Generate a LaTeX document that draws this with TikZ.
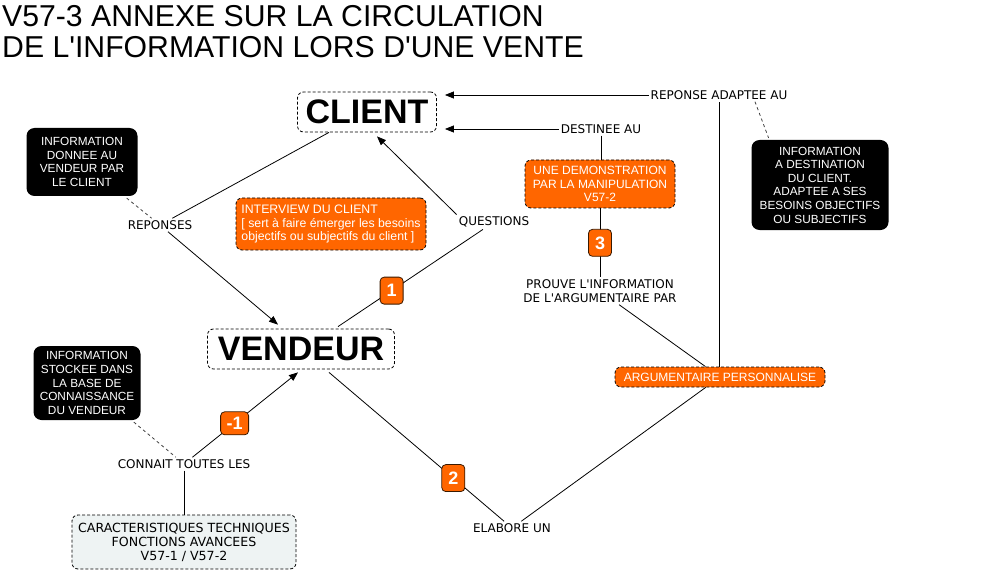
\documentclass[tikz,border=0pt]{standalone}
\usepackage{fontspec}
\setmainfont{Liberation Sans}
\newfontfamily\lblfont{DejaVu Sans}
\usetikzlibrary{arrows.meta}
\definecolor{orng}{HTML}{FF6600}
\definecolor{badgeline}{HTML}{3A1A00}
\definecolor{caracfill}{HTML}{EEF3F3}
\newcommand\apo{\textquotesingle}
\tikzset{
  conn/.style={draw=black, line width=0.8pt},
  arr/.style={conn, -{Triangle[length=9pt,width=7pt]}},
  dsh/.style={draw=black!75, line width=0.8pt, dash pattern=on 3pt off 3pt},
  bigbox/.style={draw=black, fill=white, line width=0.8pt, dash pattern=on 3pt off 2pt,
    rounded corners=6pt, inner sep=0pt, minimum height=40pt,
    font=\fontsize{34}{36}\selectfont\bfseries},
  blackbox/.style={fill=black, text=white, rounded corners=8pt, align=center,
    inner sep=0pt, font=\fontsize{11.8}{13.6}\selectfont},
  orangebox/.style={fill=orng, draw=black, line width=0.8pt, dash pattern=on 3pt off 2pt,
    rounded corners=6pt, text=white, inner sep=0pt, font=\fontsize{12}{13.4}\selectfont},
  badge/.style={fill=orng, draw=badgeline, solid, line width=0.8pt, rounded corners=4pt,
    text=white, inner sep=0pt, minimum width=23pt, minimum height=27pt,
    font=\fontsize{18}{18}\selectfont\bfseries},
  lbl/.style={inner sep=2pt, align=center, font=\lblfont\fontsize{12}{14}\selectfont},
  title/.style={anchor=base west, inner sep=0pt, font=\fontsize{30.2}{31}\selectfont},
}
\begin{document}
\begin{tikzpicture}[x=1pt,y=-1pt]
\useasboundingbox (0,0) rectangle (990,572);

% title
\node[title] (t1) at (2,27) {V57-3 ANNEXE SUR LA CIRCULATION};
\node[title] (t2) at (2,58) {DE L\apo INFORMATION LORS D\apo UNE VENTE};

% main boxes
\node[bigbox, minimum width=139pt] (client) at (367,112) {CLIENT};
\node[bigbox, minimum width=187pt] (vendeur) at (301,349) {VENDEUR};

% black info boxes
\node[blackbox, minimum width=111pt, minimum height=68pt] (bb1) at (82,162)
  {INFORMATION\\DONNEE AU\\VENDEUR PAR\\LE CLIENT};
\node[blackbox, minimum width=137pt, minimum height=90pt] (bb2) at (820,185)
  {INFORMATION\\A DESTINATION\\DU CLIENT.\\ADAPTEE A SES\\BESOINS OBJECTIFS\\OU SUBJECTIFS};
\node[blackbox, minimum width=107pt, minimum height=74pt] (bb3) at (87,383)
  {INFORMATION\\STOCKEE DANS\\LA BASE DE\\CONNAISSANCE\\DU VENDEUR};

% orange boxes
\node[orangebox, minimum width=190pt, minimum height=52pt, align=left,
  font=\fontsize{12.3}{13.4}\selectfont] (interview) at (331,224)
  {INTERVIEW DU CLIENT\\{}[ sert à faire émerger les besoins\\objectifs ou subjectifs du client ]};
\node[orangebox, minimum width=150pt, minimum height=48pt, align=center] (demo) at (600,184)
  {UNE DEMONSTRATION\\PAR LA MANIPULATION\\V57-2};
\node[orangebox, minimum width=210pt, minimum height=20pt] (arg) at (720,377)
  {ARGUMENTAIRE PERSONNALISE};

% grey box
\node[draw=black, fill=caracfill, line width=0.8pt, dash pattern=on 3pt off 2pt, rounded corners=6pt,
  minimum width=224pt, minimum height=54pt, inner sep=0pt, align=center,
  font=\lblfont\fontsize{12.6}{14}\selectfont] (carac) at (184,542)
  {CARACTERISTIQUES TECHNIQUES\\FONCTIONS AVANCEES\\V57-1 / V57-2};

% labels
\node[lbl] (rep) at (160,225) {REPONSES};
\node[lbl] (q) at (494,222) {QUESTIONS};
\node[lbl] (dest) at (601,129) {DESTINEE AU};
\node[lbl] (rad) at (719,95) {REPONSE ADAPTEE AU};
\node[lbl] (prouve) at (600,291) {PROUVE L\apo INFORMATION\\DE L\apo ARGUMENTAIRE PAR};
\node[lbl] (elab) at (512,528) {ELABORE UN};
\node[lbl] (connait) at (184,464) {CONNAIT TOUTES LES};

\coordinate (ca) at ([xshift=8pt]client.east);

% connectors
\draw[conn] ([xshift=-38pt]client.south) -- (rep);
\draw[arr] (rep) -- ([xshift=-23pt,yshift=4pt]vendeur.north);
\draw[conn] ([xshift=37pt,yshift=2pt]vendeur.north) -- node[badge, pos=0.37] (b1) {1} (q);
\draw[arr] (q.north west) -- ([xshift=10pt,yshift=-4pt]client.south);
\draw[arr] (dest) -- (dest -| ca);
\draw[arr] (rad) -- (rad -| ca);
\draw[conn] (dest) -- (dest |- demo.north);
\draw[conn] (demo) -- node[badge, pos=0.5] (b3) {3} (prouve);
\draw[conn] (prouve) -- (arg);
\draw[conn] (rad |- arg.north) -- (rad);
\draw[conn] ([xshift=28pt,yshift=-3pt]vendeur.south) -- node[badge, pos=0.71] (b2) {2} (elab);
\draw[conn] (elab) -- (arg);
\draw[arr] (connait) -- node[badge, pos=0.4, minimum width=28pt, minimum height=23pt] (bm1) {-1} ([xshift=-3pt,yshift=-3pt]vendeur.south);
\draw[conn] (connait) -- (carac);

% dashed annotation links
\draw[dsh, shorten <=3pt] (bb1) -- (rep);
\draw[dsh, shorten <=3pt] (bb3) -- (connait);
\draw[dsh, shorten >=2pt] ([xshift=36pt]rad.south) -- ([xshift=18pt]bb2.north west);
\end{tikzpicture}
\end{document}
